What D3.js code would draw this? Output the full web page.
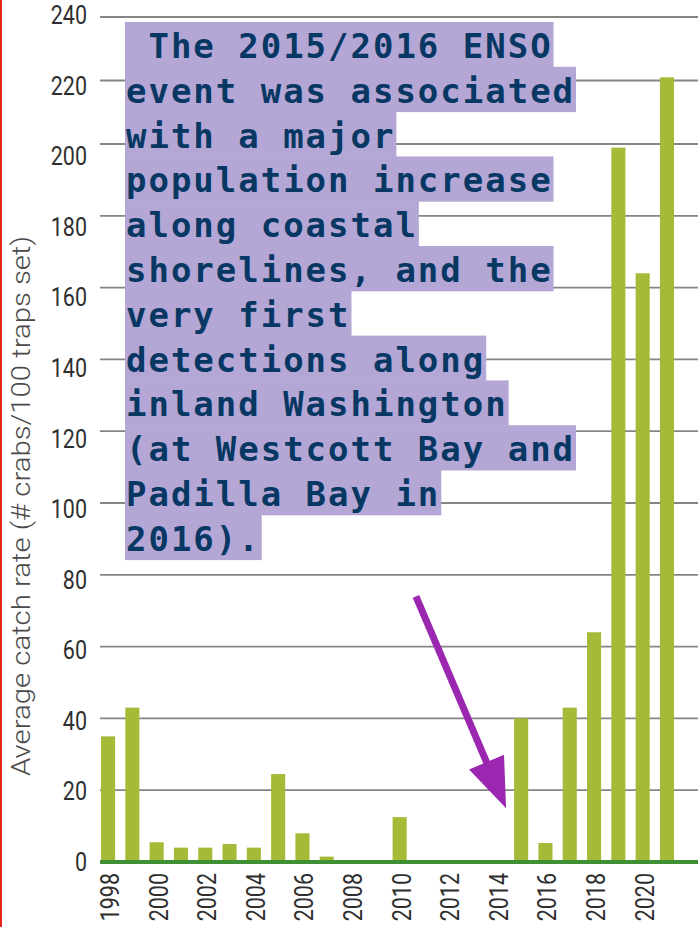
<!DOCTYPE html>
<html>
<head>
<meta charset="utf-8">
<script src="https://cdn.jsdelivr.net/npm/d3@7/dist/d3.min.js"></script>
<style>
  html, body { margin: 0; padding: 0; background: #ffffff; }
  svg { display: block; }
</style>
</head>
<body>
<svg id="chart" width="698" height="927"></svg>
<script>
// ---- data ----
const years = [1998, 1999, 2000, 2001, 2002, 2003, 2004, 2005, 2006, 2007, 2008, 2009,
               2010, 2011, 2012, 2013, 2014, 2015, 2016, 2017, 2018, 2019, 2020, 2021];
const catchRate = [35, 43, 5.5, 4, 4, 5, 4, 24.5, 8, 1.5, 0, 0,
                   12.5, 0, 0, 0, 0, 40, 5.3, 43, 64, 199, 164, 221];
const yTicks = [0, 20, 40, 60, 80, 100, 120, 140, 160, 180, 200, 220, 240];
const xTickLabels = [1998, 2000, 2002, 2004, 2006, 2008, 2010, 2012, 2014, 2016, 2018, 2020];
const yTitle = "Average catch rate (# crabs/100 traps set)";
const noteLines = [
  " The 2015/2016 ENSO",
  "event was associated",
  "with a major",
  "population increase",
  "along coastal",
  "shorelines, and the",
  "very first",
  "detections along",
  "inland Washington",
  "(at Westcott Bay and",
  "Padilla Bay in",
  "2016)."
];
// arrow annotation in data space: [year, value]
const arrowTail = [2010.67, 74];
const arrowTip = [2014.38, 15];

// ---- layout ----
const svg = d3.select("#chart");
const W = 698, H = 927;
const plotLeft = 100, plotRight = 698;
const axisFont = "'Roboto', 'Liberation Sans', sans-serif";

const x = d3.scaleBand()
  .domain(years)
  .range([95.9, 679.1])
  .paddingInner(0.42)
  .paddingOuter(0.21);

// the reference's vertical scale is slightly compressed near the top
const y = d3.scaleLinear().domain([0, 200, 240]).range([862, 144, 17]);
const yLabelPos = d3.scaleLinear().domain([0, 240]).range([862, 15]);
const xYear = d3.scaleLinear()
  .domain([years[0], years[years.length - 1]])
  .range([x(years[0]) + x.bandwidth() / 2, x(years[years.length - 1]) + x.bandwidth() / 2]);

svg.append("rect").attr("width", W).attr("height", H).attr("fill", "#ffffff");

// left red edge
svg.append("rect").attr("x", 0).attr("y", 0).attr("width", 2).attr("height", H).attr("fill", "#e3261c");

// gridlines
svg.append("g").selectAll("line")
  .data(yTicks.filter(d => d !== 0))
  .join("line")
  .attr("x1", plotLeft).attr("x2", plotRight)
  .attr("y1", d => y(d)).attr("y2", d => y(d))
  .attr("stroke", "#858585")
  .attr("stroke-width", 1.8);

// y tick labels (condensed)
svg.append("g").selectAll("text")
  .data(yTicks)
  .join("text")
  .attr("transform", d => `translate(87,${yLabelPos(d)}) scale(0.86,1)`)
  .attr("dy", "0.36em")
  .attr("text-anchor", "end")
  .attr("font-family", axisFont)
  .attr("font-weight", 400)
  .attr("font-size", 25)
  .attr("fill", "#2e2e2e")
  .text(d => d);

// bars
svg.append("g").selectAll("rect")
  .data(years.map((yr, i) => ({ yr, v: catchRate[i] })).filter(d => d.v > 0))
  .join("rect")
  .attr("x", d => x(d.yr))
  .attr("width", x.bandwidth())
  .attr("y", d => y(d.v))
  .attr("height", d => y(0) - y(d.v))
  .attr("fill", "#a5bb38");

// baseline
svg.append("line")
  .attr("x1", plotLeft).attr("x2", plotRight)
  .attr("y1", y(0)).attr("y2", y(0))
  .attr("stroke", "#3f8f34")
  .attr("stroke-width", 4);

// x tick labels (condensed, rotated)
svg.append("g").selectAll("text")
  .data(xTickLabels)
  .join("text")
  .attr("transform", d => `translate(${x(d) + x.bandwidth() / 2 + 2},873) rotate(-90) scale(0.86,1)`)
  .attr("dy", "0.36em")
  .attr("text-anchor", "end")
  .attr("font-family", axisFont)
  .attr("font-weight", 400)
  .attr("font-size", 25)
  .attr("fill", "#2e2e2e")
  .text(d => d);

// y title
svg.append("text")
  .attr("transform", `translate(30,506) rotate(-90)`)
  .attr("text-anchor", "middle")
  .attr("font-family", axisFont)
  .attr("font-weight", 300)
  .attr("font-size", 25)
  .attr("textLength", 540)
  .attr("lengthAdjust", "spacingAndGlyphs")
  .attr("fill", "#4a4a4a")
  .text(yTitle);

// annotation note
const noteLeft = 125, noteTop = 22, lineH = 44.8, charW = 22.45, noteFs = 34;
const note = svg.append("g");
note.selectAll("rect")
  .data(noteLines)
  .join("rect")
  .attr("x", noteLeft)
  .attr("y", (d, i) => noteTop + i * lineH)
  .attr("width", d => d.length * charW + 2)
  .attr("height", lineH + 0.5)
  .attr("fill", "#b4a7d6");
note.selectAll("text")
  .data(noteLines)
  .join("text")
  .attr("x", noteLeft + 1)
  .attr("y", (d, i) => noteTop + i * lineH + 36)
  .attr("font-family", "'DejaVu Sans Mono', monospace")
  .attr("font-weight", "bold")
  .attr("font-size", noteFs)
  .attr("letter-spacing", (charW - 0.602 * noteFs) + "px")
  .attr("fill", "#073763")
  .attr("xml:space", "preserve")
  .style("white-space", "pre")
  .text(d => d);

// arrow
const tx = xYear(arrowTail[0]), ty = y(arrowTail[1]);
const hx = xYear(arrowTip[0]), hy = y(arrowTip[1]);
const ang = Math.atan2(hy - ty, hx - tx);
const headLen = 50, headHalf = 19;
const bx = hx - headLen * Math.cos(ang), by = hy - headLen * Math.sin(ang);
const px = -Math.sin(ang), py = Math.cos(ang);
svg.append("line")
  .attr("x1", tx).attr("y1", ty).attr("x2", bx + 2 * Math.cos(ang)).attr("y2", by + 2 * Math.sin(ang))
  .attr("stroke", "#9b27b1").attr("stroke-width", 7);
svg.append("path")
  .attr("d", d3.line()([[hx, hy], [bx + headHalf * px, by + headHalf * py], [bx - headHalf * px, by - headHalf * py]]) + "Z")
  .attr("fill", "#9b27b1");
</script>
</body>
</html>
